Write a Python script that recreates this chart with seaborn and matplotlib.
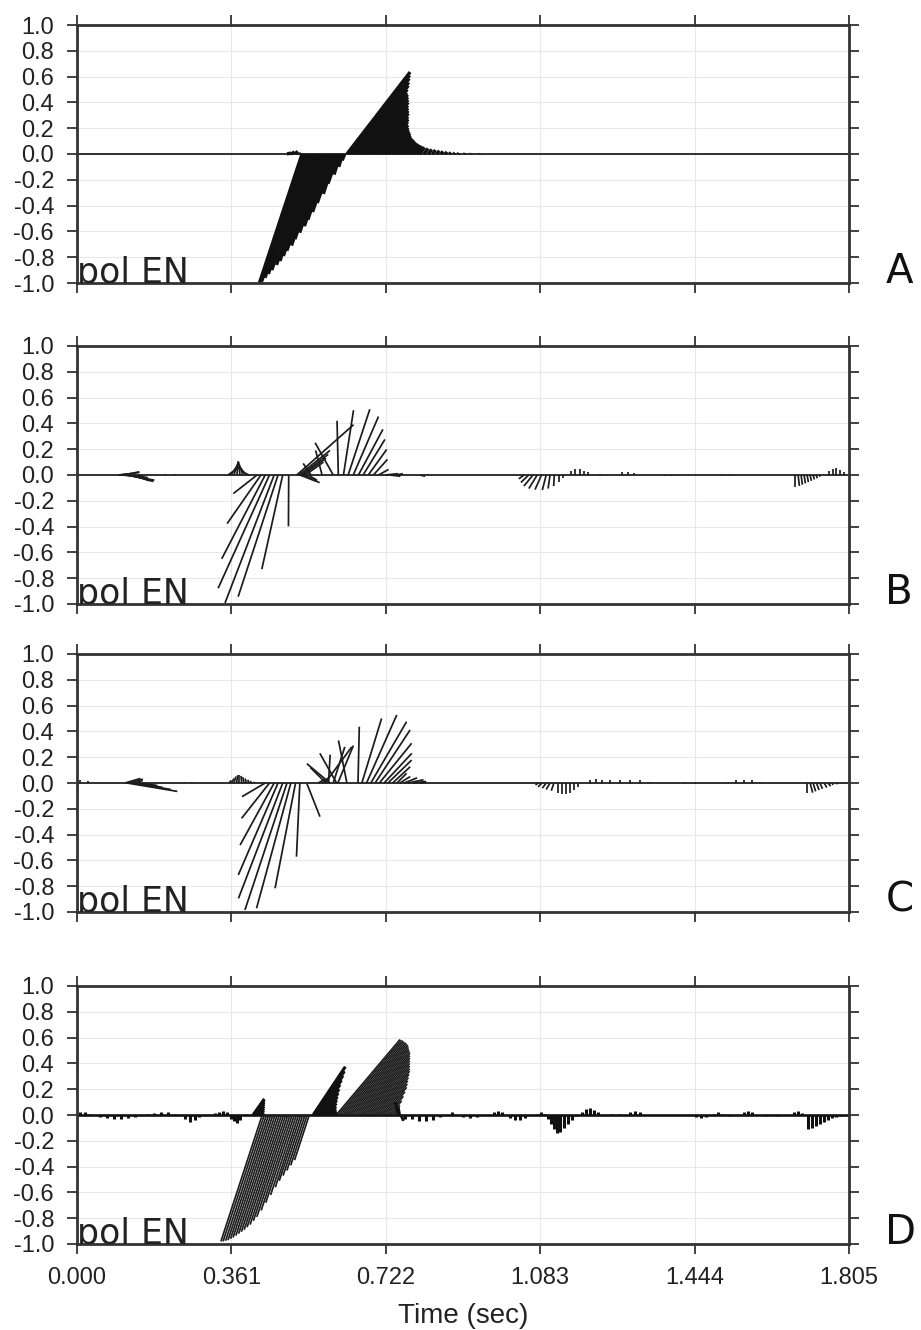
import numpy as np
import pandas as pd
import matplotlib
matplotlib.use("Agg")
import matplotlib.pyplot as plt
import seaborn as sns

# ---------------------------------------------------------------- axes setup
T_MAX = 1.805
x_ticks = [0.000, 0.361, 0.722, 1.083, 1.444, 1.805]
x_tick_labels = ["0.000", "0.361", "0.722", "1.083", "1.444", "1.805"]
y_ticks = [1.0, 0.8, 0.6, 0.4, 0.2, 0.0, -0.2, -0.4, -0.6, -0.8, -1.0]
y_tick_labels = ["1.0", "0.8", "0.6", "0.4", "0.2", "0.0", "-0.2", "-0.4", "-0.6", "-0.8", "-1.0"]
panel_letters = ["A", "B", "C", "D"]
component_label = "pol EN"
x_label = "Time (sec)"

# ---------------------------------------------------------------- panel A
# polarisation sticks: base time (s), north and east components
A_time = [0.491, 0.500, 0.510, 0.519,
          0.526, 0.531, 0.536, 0.541, 0.546, 0.551, 0.556, 0.561, 0.566, 0.571, 0.576,
          0.581, 0.586, 0.591, 0.596, 0.601, 0.606, 0.611, 0.616, 0.621, 0.626,
          0.631, 0.636, 0.641, 0.646, 0.651, 0.656, 0.661, 0.666, 0.671, 0.676, 0.681,
          0.686, 0.691, 0.696, 0.701, 0.706, 0.711, 0.716, 0.721, 0.726, 0.731, 0.736,
          0.741, 0.746, 0.751, 0.756, 0.761, 0.766, 0.771, 0.776, 0.781, 0.786, 0.791,
          0.796, 0.801, 0.811, 0.821, 0.831, 0.841, 0.851, 0.861, 0.871, 0.881, 0.891,
          0.906, 0.921, 0.941]
A_north = [0.008, 0.016, 0.022, 0.018,
           -1.00, -0.99, -0.96, -0.93, -0.90, -0.86, -0.83, -0.79, -0.75, -0.71, -0.66,
           -0.61, -0.56, -0.51, -0.45, -0.38, -0.31, -0.23, -0.16, -0.10, -0.05,
           0.635, 0.61, 0.585, 0.555, 0.53, 0.50, 0.475, 0.46, 0.44, 0.42, 0.40,
           0.375, 0.355, 0.335, 0.315, 0.29, 0.27, 0.25, 0.225, 0.205, 0.19, 0.175,
           0.16, 0.145, 0.13, 0.12, 0.11, 0.10, 0.09, 0.082, 0.075, 0.068, 0.062,
           0.056, 0.051, 0.043, 0.036, 0.031, 0.026, 0.021, 0.017, 0.013, 0.010, 0.008,
           0.006, 0.004, 0.003]
A_east = [0.03, 0.03, 0.02, 0.00,
          -0.33, -0.33, -0.32, -0.31, -0.30, -0.28, -0.27, -0.26, -0.25, -0.23, -0.22,
          -0.20, -0.18, -0.17, -0.15, -0.13, -0.10, -0.08, -0.05, -0.03, -0.02,
          0.49, 0.47, 0.45, 0.43, 0.41, 0.385, 0.365, 0.355, 0.34, 0.325, 0.31,
          0.29, 0.275, 0.26, 0.245, 0.225, 0.21, 0.19, 0.175, 0.16, 0.145, 0.135,
          0.125, 0.11, 0.10, 0.092, 0.085, 0.077, 0.07, 0.063, 0.058, 0.052, 0.048,
          0.043, 0.039, 0.033, 0.028, 0.024, 0.02, 0.016, 0.013, 0.01, 0.008, 0.006,
          0.005, 0.003, 0.002]

# ---------------------------------------------------------------- panel B
B_time = [0.0959, 0.1005, 0.1052, 0.1099, 0.1146, 0.1192, 0.1239, 0.1333, 0.1426, 0.206, 0.229,
          0.353, 0.360, 0.367, 0.374, 0.381, 0.388, 0.395, 0.402,
          0.421, 0.430, 0.440, 0.450, 0.461, 0.470, 0.481, 0.495,
          0.514, 0.519, 0.524, 0.528, 0.534, 0.521, 0.531, 0.540, 0.547, 0.573, 0.599, 0.611,
          0.623, 0.634, 0.646, 0.658, 0.669, 0.681, 0.693, 0.705,
          0.720, 0.732, 0.744, 0.802, 0.820,
          1.045, 1.056, 1.066, 1.076, 1.086, 1.097, 1.106, 1.116, 1.127, 1.136,
          1.155, 1.164, 1.175, 1.185, 1.195,
          1.223, 1.274, 1.288, 1.302, 1.375, 1.391, 1.508, 1.527,
          1.679, 1.686, 1.693, 1.700, 1.707, 1.714, 1.721, 1.728, 1.735,
          1.758, 1.767, 1.775, 1.784, 1.793]
B_north = [0.01, 0.02, -0.02, 0.025, -0.04, -0.045, -0.05, -0.045, -0.03, 0.01, 0.008,
           0.06, 0.09, 0.105, 0.105, 0.10, 0.085, 0.06, 0.03,
           -0.144, -0.377, -0.650, -0.878, -0.992, -0.943, -0.730, -0.398,
           0.39, 0.19, 0.16, 0.13, 0.10, -0.05, -0.06, -0.04, 0.09, 0.19, 0.25, 0.42,
           0.502, 0.51, 0.453, 0.354, 0.276, 0.198, 0.121, 0.043,
           0.01, -0.01, 0.01, -0.01, 0.01,
           -0.03, -0.058, -0.086, -0.105, -0.113, -0.117, -0.105, -0.086, -0.055, -0.023,
           0.03, 0.05, 0.045, 0.03, 0.02,
           0.01, 0.02, 0.02, 0.015, -0.01, -0.01, 0.01, 0.01,
           -0.09, -0.085, -0.075, -0.065, -0.055, -0.045, -0.035, -0.025, -0.012,
           0.03, 0.05, 0.055, 0.04, 0.02]
B_east = [0.10, 0.15, 0.20, 0.12, 0.22, 0.20, 0.18, 0.12, 0.08, 0.0, 0.0,
          0.085, 0.06, 0.035, 0.01, -0.01, -0.03, -0.045, -0.06,
          -0.184, -0.262, -0.337, -0.398, -0.381, -0.309, -0.162, -0.002,
          0.44, 0.24, 0.21, 0.18, 0.14, 0.13, 0.12, 0.07, -0.06, -0.05, -0.14, -0.01,
          0.078, 0.168, 0.195, 0.19, 0.169, 0.143, 0.109, 0.078,
          0.10, 0.08, 0.06, 0.04, 0.0,
          -0.04, -0.06, -0.07, -0.065, -0.05, -0.03, -0.015, -0.005, 0.0, 0.0,
          0.0, 0.0, 0.0, 0.0, 0.0,
          0.0, 0.0, 0.0, 0.0, 0.0, 0.0, 0.0, 0.0,
          0.0, 0.01, 0.01, 0.01, 0.01, 0.01, 0.01, 0.01, 0.01,
          0.0, 0.0, 0.0, 0.0, 0.0]

# ---------------------------------------------------------------- panel C
C_time = [0.007, 0.026,
          0.1122, 0.1239, 0.1356, 0.1169, 0.1286, 0.1403, 0.152,
          0.2525, 0.2689,
          0.355, 0.361, 0.367, 0.373, 0.379, 0.385, 0.3905, 0.396, 0.402, 0.408, 0.414,
          0.440, 0.450, 0.461, 0.470, 0.481, 0.491, 0.500, 0.511, 0.521, 0.537,
          0.580, 0.582, 0.588, 0.5915, 0.599, 0.607, 0.610, 0.631, 0.564, 0.573,
          0.657,
          0.666, 0.677, 0.687, 0.697, 0.707, 0.718, 0.727, 0.738, 0.748,
          0.755, 0.765, 0.774, 0.786, 0.802,
          1.078, 1.087, 1.097, 1.106, 1.115, 1.125, 1.134, 1.143, 1.153, 1.162, 1.171,
          1.199, 1.214, 1.228, 1.246, 1.270, 1.293, 1.316, 1.340,
          1.422, 1.445,
          1.522, 1.541, 1.560, 1.578, 1.597,
          1.707, 1.714, 1.721, 1.729, 1.737, 1.747, 1.756, 1.765, 1.775, 1.784]
C_north = [0.02, 0.015,
           0.035, 0.03, 0.02, -0.065, -0.05, -0.035, -0.02,
           0.01, 0.01,
           0.02, 0.035, 0.05, 0.06, 0.062, 0.055, 0.045, 0.035, 0.025, 0.015, 0.008,
           -0.106, -0.274, -0.481, -0.713, -0.894, -0.984, -0.971, -0.816, -0.571, -0.261,
           0.28, 0.12, 0.22, 0.15, 0.28, 0.23, 0.29, 0.33, 0.03, 0.04,
           0.436,
           0.50, 0.527, 0.475, 0.411, 0.308, 0.23, 0.178, 0.126, 0.075,
           0.05, 0.04, 0.025, 0.012, 0.005,
           -0.015, -0.03, -0.04, -0.05, -0.06, -0.08, -0.088, -0.088, -0.075, -0.055, -0.03,
           0.02, 0.03, 0.025, 0.02, 0.02, 0.025, 0.02, 0.01,
           -0.01, -0.01,
           0.01, 0.02, 0.025, 0.02, 0.01,
           -0.08, -0.075, -0.065, -0.055, -0.045, -0.035, -0.025, -0.015, -0.008, -0.003]
C_east = [0.0, 0.0,
          0.12, 0.10, 0.06, 0.39, 0.30, 0.20, 0.12,
          0.0, 0.0,
          0.02, 0.02, 0.015, 0.01, 0.0, -0.005, -0.01, -0.01, -0.01, -0.01, -0.005,
          -0.18, -0.216, -0.264, -0.308, -0.343, -0.326, -0.266, -0.159, -0.026, 0.103,
          0.207, -0.12, 0.013, -0.18, 0.09, -0.13, 0.12, -0.065, 0.05, 0.05,
          0.01,
          0.153, 0.234, 0.277, 0.271, 0.25, 0.215, 0.184, 0.136, 0.075,
          0.08, 0.10, 0.12, 0.10, 0.05,
          -0.02, -0.03, -0.03, -0.03, -0.02, 0.0, 0.0, 0.0, 0.0, 0.0, 0.0,
          0.0, 0.0, 0.0, 0.0, 0.0, 0.0, 0.0, 0.0,
          0.0, 0.0,
          0.0, 0.0, 0.0, 0.0, 0.0,
          0.0, 0.02, 0.02, 0.02, 0.02, 0.02, 0.02, 0.01, 0.01, 0.0]

# ---------------------------------------------------------------- panel D
# solid (dense) sticks along the trace
D_time = [0.007, 0.019, 0.030,
          0.054, 0.070, 0.087, 0.103, 0.119, 0.136,
          0.164, 0.180, 0.196, 0.213, 0.229,
          0.2525, 0.2642, 0.2759, 0.2852,
          0.323, 0.332, 0.341, 0.351,
          0.360, 0.367, 0.374, 0.381, 0.395,
          0.4115, 0.4145, 0.4174, 0.4203, 0.4232, 0.4261, 0.429, 0.432,
          0.552, 0.556, 0.560, 0.564, 0.568, 0.572, 0.576, 0.580, 0.584, 0.588, 0.592,
          0.596, 0.600, 0.604,
          0.7505, 0.754, 0.7575, 0.767, 0.783, 0.800, 0.816, 0.832, 0.849, 0.877,
          0.9025, 0.919, 0.935, 0.975, 0.984, 0.994,
          1.012, 1.024, 1.036, 1.047, 1.0755, 1.085, 1.094,
          1.101, 1.108, 1.115, 1.122, 1.129, 1.139, 1.148, 1.157, 1.167,
          1.181, 1.190, 1.199, 1.209, 1.218, 1.250, 1.270,
          1.293, 1.305, 1.316, 1.447, 1.459, 1.471, 1.489, 1.499, 1.508, 1.527,
          1.559, 1.569, 1.578, 1.610, 1.640, 1.676, 1.686, 1.695,
          1.709, 1.718, 1.728, 1.737, 1.747, 1.756, 1.765, 1.775, 1.784]
D_north = [0.02, 0.02, 0.01,
           -0.015, -0.025, -0.03, -0.03, -0.025, -0.015,
           0.01, 0.015, 0.02, 0.02, 0.01,
           -0.03, -0.057, -0.04, -0.015,
           0.015, 0.025, 0.034, 0.025,
           -0.03, -0.05, -0.06, -0.035, 0.01,
           0.125, 0.11, 0.095, 0.08, 0.065, 0.05, 0.035, 0.02,
           0.375, 0.34, 0.305, 0.27, 0.235, 0.20, 0.17, 0.14, 0.115, 0.09, 0.065,
           0.045, 0.03, 0.015,
           0.10, 0.06, -0.045, -0.03, -0.03, -0.045, -0.05, -0.035, -0.015, 0.02,
           -0.015, -0.026, -0.015, 0.02, 0.034, 0.02,
           -0.02, -0.04, -0.04, -0.02, 0.01, 0.02, 0.01,
           -0.03, -0.07, -0.11, -0.14, -0.13, -0.10, -0.07, -0.04, -0.01,
           0.02, 0.045, 0.055, 0.04, 0.02, 0.008, 0.01,
           0.02, 0.034, 0.02, -0.015, -0.026, -0.015, 0.01, 0.02, 0.01, -0.01,
           0.02, 0.034, 0.025, -0.01, -0.01, 0.02, 0.034, 0.015,
           -0.105, -0.10, -0.085, -0.07, -0.055, -0.04, -0.025, -0.012, -0.004]
D_east = [0.0, 0.0, 0.0,
          0.0, 0.0, 0.0, 0.0, 0.0, 0.0,
          0.0, 0.0, 0.0, 0.0, 0.0,
          0.0, 0.0, 0.0, 0.0,
          0.0, 0.0, 0.0, 0.0,
          0.0, 0.0, 0.0, 0.0, 0.0,
          0.088, 0.077, 0.067, 0.056, 0.046, 0.035, 0.025, 0.014,
          0.25, 0.23, 0.205, 0.18, 0.155, 0.135, 0.115, 0.095, 0.077, 0.06, 0.044,
          0.03, 0.02, 0.01,
          -0.02, -0.01, 0.02, 0.0, 0.0, 0.0, 0.0, 0.0, 0.0, 0.0,
          0.0, 0.0, 0.0, 0.0, 0.0, 0.0,
          0.0, 0.0, 0.0, 0.0, 0.0, 0.0, 0.0,
          0.0, 0.0, 0.0, 0.0, 0.0, 0.0, 0.0, 0.0, 0.0,
          0.0, 0.0, 0.0, 0.0, 0.0, 0.0, 0.0,
          0.0, 0.0, 0.0, 0.0, 0.0, 0.0, 0.0, 0.0, 0.0, 0.0,
          0.0, 0.0, 0.0, 0.0, 0.0, 0.0, 0.0, 0.0,
          0.0, 0.0, 0.0, 0.0, 0.0, 0.0, 0.0, 0.0, 0.0]

# fine (hatched) sticks of the two large arrivals
D_fine_time = [0.433, 0.438, 0.443, 0.448, 0.453, 0.458, 0.463, 0.468, 0.473, 0.478, 0.483,
               0.488, 0.493, 0.498, 0.503, 0.508, 0.513, 0.518, 0.523, 0.528, 0.533, 0.538,
               0.543,
               0.606, 0.611, 0.616, 0.621, 0.626, 0.631, 0.636, 0.641, 0.646, 0.651, 0.656,
               0.661, 0.666, 0.671, 0.676, 0.681, 0.686, 0.691, 0.696, 0.701, 0.706, 0.711,
               0.716, 0.721, 0.726, 0.731, 0.736, 0.741]
D_fine_north = [-0.98, -0.98, -0.975, -0.97, -0.96, -0.95, -0.935, -0.92, -0.905, -0.89, -0.87,
                -0.85, -0.82, -0.79, -0.74, -0.68, -0.62, -0.56, -0.51, -0.47, -0.43, -0.39,
                -0.35,
                0.585, 0.58, 0.575, 0.565, 0.56, 0.55, 0.54, 0.525, 0.51, 0.495, 0.48,
                0.46, 0.44, 0.42, 0.40, 0.38, 0.36, 0.34, 0.315, 0.29, 0.265, 0.24,
                0.215, 0.18, 0.145, 0.11, 0.075, 0.04]
D_fine_east = [-0.32, -0.32, -0.317, -0.315, -0.312, -0.309, -0.304, -0.299, -0.294, -0.289, -0.283,
               -0.276, -0.267, -0.257, -0.24, -0.221, -0.2, -0.18, -0.166, -0.153, -0.14, -0.127,
               -0.114,
               0.495, 0.49, 0.486, 0.478, 0.474, 0.465, 0.457, 0.444, 0.431, 0.419, 0.406,
               0.389, 0.372, 0.355, 0.338, 0.321, 0.305, 0.288, 0.266, 0.245, 0.224, 0.203,
               0.182, 0.152, 0.123, 0.093, 0.063, 0.034]

# ---------------------------------------------------------------- style
sns.set_theme(style="ticks")
plt.rcParams.update({
    "font.family": ["Liberation Sans", "DejaVu Sans"],
    "lines.solid_capstyle": "butt",
    "axes.edgecolor": "#333333",
    "axes.linewidth": 2.0,
    "xtick.color": "#333333",
    "ytick.color": "#333333",
    "xtick.labelcolor": "#222222",
    "ytick.labelcolor": "#222222",
})

fig = plt.figure(figsize=(9.21, 13.30), dpi=100)
W, H = 921.0, 1330.0
left_px, width_px, height_px = 77.0, 772.0, 258.0
bottoms_px = [283.0, 604.0, 912.0, 1244.0]

INK = "#111111"
GEOMETRIC = ["DejaVu Sans"]


def draw_sticks(ax, time, north, east, lw, color=INK):
    """Draw each polarisation stick from (t, 0) to (t + east, north)."""
    # equal pixel scale for the horizontal (east) and vertical (north) parts
    kx = (T_MAX / ax.bbox.width) * (ax.bbox.height / 2.0)
    t = np.asarray(time, float)
    n = np.asarray(north, float)
    e = np.asarray(east, float)
    idx = np.arange(len(t))
    df = pd.DataFrame({
        "time": np.concatenate([t, t + e * kx]),
        "amp": np.concatenate([np.zeros_like(n), n]),
        "stick": np.concatenate([idx, idx]),
    })
    sns.lineplot(data=df, x="time", y="amp", units="stick", estimator=None,
                 sort=False, color=color, linewidth=lw, legend=False, ax=ax)


axes = []
for i, bpx in enumerate(bottoms_px):
    ax = fig.add_axes([left_px / W, (H - bpx) / H, width_px / W, height_px / H])
    ax.set_xlim(0, T_MAX)
    ax.set_ylim(-1.0, 1.0)
    ax.set_xticks(x_ticks)
    ax.set_yticks(y_ticks)
    ax.set_yticklabels(y_tick_labels)
    ax.grid(True, color="#e8e8e8", linewidth=0.8)
    ax.set_axisbelow(True)
    ax.tick_params(direction="out", length=7.5, width=1.3, top=True, right=True,
                   labelsize=17, pad=9)
    ax.tick_params(axis="y", labelright=False)
    ax.axhline(0.0, color=INK, linewidth=(1.9 if i == 3 else 1.2), zorder=2)
    for sp in ax.spines.values():
        sp.set_zorder(5)
    axes.append(ax)

draw_sticks(axes[0], A_time, A_north, A_east, lw=2.4)
draw_sticks(axes[1], B_time, B_north, B_east, lw=1.25, color="#1c1c1c")
draw_sticks(axes[2], C_time, C_north, C_east, lw=1.25, color="#1c1c1c")
draw_sticks(axes[3], D_fine_time, D_fine_north, D_fine_east, lw=1.25, color="#1e1e1e")
draw_sticks(axes[3], D_time, D_north, D_east, lw=2.2)

for i, ax in enumerate(axes):
    ax.set_ylabel("")
    ax.text(0.0, -1.0, component_label, fontsize=25, color="#222222",
            family=GEOMETRIC, ha="left", va="baseline", clip_on=True, zorder=6)
    ax.text(1.047, 0.0, panel_letters[i], transform=ax.transAxes, fontsize=29,
            family=GEOMETRIC, color="#111111", ha="left", va="baseline")
    if i < 3:
        ax.set_xlabel("")
        ax.tick_params(axis="x", labelbottom=False)
    else:
        ax.set_xticklabels(x_tick_labels)
        ax.set_xlabel(x_label, fontsize=20, color="#222222", labelpad=10)

fig.savefig("out.png", dpi=100)
